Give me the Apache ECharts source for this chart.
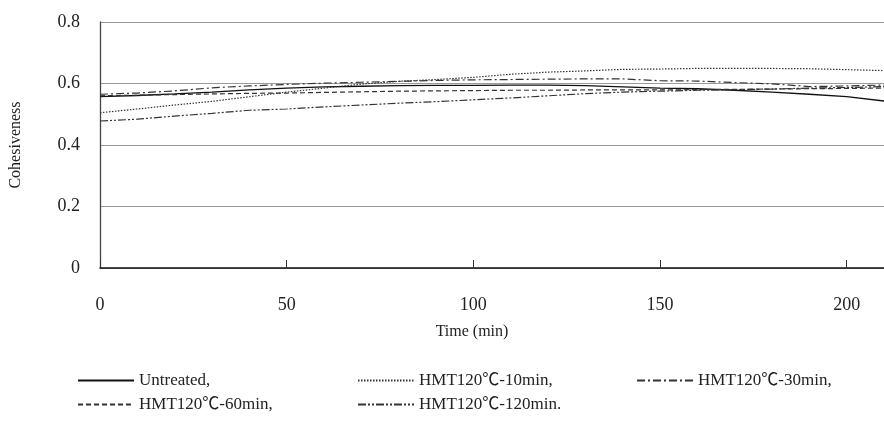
<!DOCTYPE html>
<html>
<head>
<meta charset="utf-8">
<script src="https://cdn.jsdelivr.net/npm/echarts@6/dist/echarts.min.js"></script>
<style>
  html, body { margin: 0; padding: 0; background: #fff; }
  #chart { width: 884px; height: 423px; }
</style>
</head>
<body>
<div id="chart"></div>
<script>
const times = [0, 10, 20, 30, 40, 50, 60, 70, 80, 90, 100, 110, 120, 130, 140, 150, 160, 170, 180, 190, 200, 210];
const untreated = [0.557, 0.561, 0.566, 0.572, 0.579, 0.585, 0.589, 0.591, 0.593, 0.594, 0.594, 0.595, 0.595, 0.593, 0.589, 0.585, 0.583, 0.578, 0.572, 0.565, 0.557, 0.543];
const hmt10 = [0.505, 0.517, 0.530, 0.542, 0.557, 0.572, 0.585, 0.598, 0.607, 0.613, 0.620, 0.630, 0.637, 0.641, 0.646, 0.647, 0.649, 0.649, 0.649, 0.648, 0.645, 0.642];
const hmt30 = [0.565, 0.569, 0.576, 0.586, 0.592, 0.597, 0.601, 0.604, 0.607, 0.610, 0.612, 0.613, 0.614, 0.615, 0.615, 0.609, 0.608, 0.603, 0.599, 0.590, 0.592, 0.595];
const hmt60 = [0.560, 0.562, 0.564, 0.566, 0.568, 0.569, 0.571, 0.573, 0.575, 0.576, 0.577, 0.578, 0.578, 0.579, 0.579, 0.579, 0.580, 0.581, 0.582, 0.583, 0.584, 0.585];
const hmt120 = [0.478, 0.484, 0.494, 0.503, 0.513, 0.517, 0.524, 0.530, 0.536, 0.541, 0.547, 0.553, 0.560, 0.567, 0.572, 0.575, 0.578, 0.580, 0.582, 0.585, 0.587, 0.590];

const names = ["Untreated,", "HMT120℃-10min,", "HMT120℃-30min,", "HMT120℃-60min,", "HMT120℃-120min."];

const font = "'Liberation Serif', 'Noto Sans CJK JP', serif";

const pairs = (vals) => times.map((t, i) => [t, vals[i]]);

const mkSeries = (name, vals, dash, color, width) => ({
  name: name,
  type: "line",
  data: pairs(vals),
  symbol: "none",
  smooth: false,
  lineStyle: { color: color, width: width, type: dash },
  itemStyle: { color: color },
  emphasis: { disabled: true },
});

// one legend per entry so the columns line up like the original
const mkLegend = (name, left, top) => ({
  data: [name],
  left: left,
  top: top,
  itemWidth: 56,
  itemHeight: 10,
  itemGap: 5,
  padding: 0,
  selectedMode: false,
  itemStyle: { opacity: 0 },
  textStyle: { fontFamily: font, fontSize: 17, color: "#222" },
});

const chart = echarts.init(document.getElementById("chart"));

chart.setOption({
  animation: false,
  backgroundColor: "#fff",
  grid: { left: 100, right: 0, top: 22, bottom: 155 },
  legend: [
    mkLegend(names[0], 77, 372),
    mkLegend(names[1], 357, 372),
    mkLegend(names[2], 636, 372),
    mkLegend(names[3], 77, 396),
    mkLegend(names[4], 357, 396),
  ],
  xAxis: {
    type: "value",
    min: 0,
    max: 210,
    interval: 50,
    name: "Time (min)",
    nameLocation: "middle",
    nameGap: 56,
    nameTextStyle: { fontFamily: font, fontSize: 16, color: "#222", padding: [0, 40, 0, 0] },
    axisLine: { show: true, lineStyle: { color: "#111", width: 1.5 } },
    axisTick: { show: true, inside: true, length: 8, lineStyle: { color: "#333" } },
    axisLabel: { fontFamily: font, fontSize: 18, color: "#222", margin: 28, showMaxLabel: false },
    splitLine: { show: false },
  },
  yAxis: {
    type: "value",
    min: 0,
    max: 0.8,
    interval: 0.2,
    name: "Cohesiveness",
    nameLocation: "middle",
    nameGap: 76,
    nameTextStyle: { fontFamily: font, fontSize: 16, color: "#222" },
    axisLine: { show: true, lineStyle: { color: "#444", width: 1.3 } },
    axisTick: { show: false },
    axisLabel: { fontFamily: font, fontSize: 18, color: "#222", margin: 20 },
    splitLine: { show: true, lineStyle: { color: "#9a9a9a", width: 1 } },
  },
  series: [
    mkSeries(names[0], untreated, "solid", "#111", 1.3),
    mkSeries(names[1], hmt10, [1.5, 1.5], "#333", 1.2),
    mkSeries(names[2], hmt30, [8, 3, 2, 3], "#333", 1.2),
    mkSeries(names[3], hmt60, [5, 3], "#333", 1.2),
    mkSeries(names[4], hmt120, [8, 2, 2, 2, 2, 2], "#333", 1.2),
  ],
});
</script>
</body>
</html>
